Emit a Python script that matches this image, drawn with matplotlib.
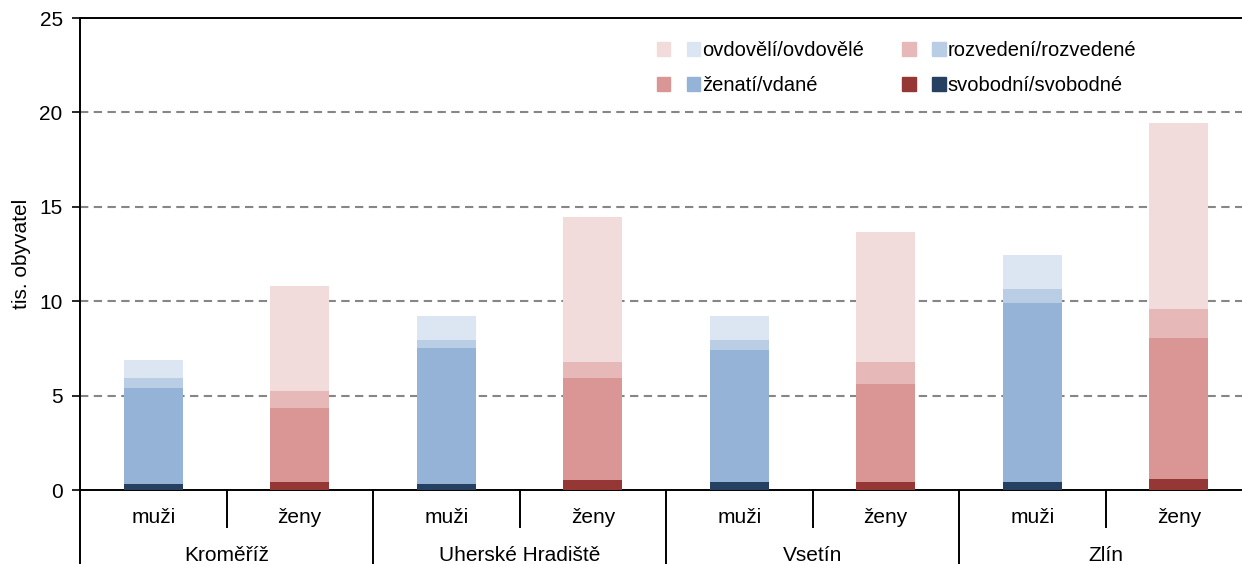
import matplotlib
matplotlib.use("Agg")
import matplotlib.pyplot as plt
import matplotlib.transforms as mtransforms
from matplotlib.patches import Patch
from matplotlib.legend_handler import HandlerTuple
import numpy as np

plt.rcParams['font.family'] = ['Liberation Sans', 'DejaVu Sans']

districts = ["Kroměříž", "Uherské Hradiště", "Vsetín", "Zlín"]
sexes = ["muži", "ženy"]

# values in thousands, per district: [Kroměříž, UH, Vsetín, Zlín]
muzi_svobodni   = [0.32, 0.32, 0.42, 0.42]
muzi_zenati     = [5.10, 7.22, 7.01, 9.50]
muzi_rozvedeni  = [0.53, 0.40, 0.53, 0.73]
muzi_ovdoveli   = [0.94, 1.28, 1.26, 1.78]

zeny_svobodne   = [0.42, 0.53, 0.42, 0.58]
zeny_vdane      = [3.92, 5.40, 5.19, 7.47]
zeny_rozvedene  = [0.90, 0.87, 1.17, 1.54]
zeny_ovdovele   = [5.56, 7.66, 6.89, 9.85]

series_labels = ["svobodní/svobodné", "ženatí/vdané", "rozvedení/rozvedené", "ovdovělí/ovdovělé"]
blue_colors = ["#254061", "#95B3D7", "#B9CDE5", "#DCE6F2"]
red_colors = ["#953735", "#D99694", "#E6B9B8", "#F2DCDB"]

W, H = 1242, 564
fig = plt.figure(figsize=(W / 100, H / 100), dpi=100)
ax_l, ax_b = 80 / W, (H - 490) / H
ax_w, ax_h = 1172 / W, 472 / H
ax = fig.add_axes([ax_l, ax_b, ax_w, ax_h])

n = len(districts)
x_m = np.arange(n) * 2
x_z = x_m + 1
bw = 0.40

muzi = [muzi_svobodni, muzi_zenati, muzi_rozvedeni, muzi_ovdoveli]
zeny = [zeny_svobodne, zeny_vdane, zeny_rozvedene, zeny_ovdovele]

bm = np.zeros(n)
bz = np.zeros(n)
handles = []
for i in range(4):
    ax.bar(x_m, muzi[i], bw, bottom=bm, color=blue_colors[i], zorder=3, linewidth=0)
    ax.bar(x_z, zeny[i], bw, bottom=bz, color=red_colors[i], zorder=3, linewidth=0)
    bm += np.array(muzi[i])
    bz += np.array(zeny[i])
    handles.append((Patch(color=red_colors[i]), Patch(color=blue_colors[i])))

ax.set_xlim(-0.5, 2 * n - 0.5)
ax.set_ylim(0, 25)
ax.set_yticks([0, 5, 10, 15, 20, 25])
ax.tick_params(axis='y', length=5.5, width=1.2, pad=7, labelsize=15, color='black')
ax.set_xticks([])

for y in [5, 10, 15, 20]:
    ax.axhline(y, color='#868686', lw=1.5, dashes=(4, 2.6), zorder=1)

ax.spines['right'].set_visible(False)
for s in ['left', 'bottom', 'top']:
    ax.spines[s].set_linewidth(1.4)

ax.set_ylabel("tis. obyvatel", fontsize=15)
ax.yaxis.set_label_coords(-0.042, 0.5)

trans = mtransforms.blended_transform_factory(ax.transData, ax.transAxes)
px = 1 / 472
# separators
for k in range(n):
    xs = 2 * k + 0.5
    ax.plot([xs, xs], [0, -37 * px], transform=trans, color='black', lw=1.4, clip_on=False)
for k in range(n):
    xs = 2 * k - 0.5
    ax.plot([xs, xs], [0, -90 * px], transform=trans, color='black', lw=1.4, clip_on=False)

for k in range(n):
    ax.text(x_m[k], -33 * px, sexes[0], transform=trans, ha='center', va='baseline', fontsize=15)
    ax.text(x_z[k], -33 * px, sexes[1], transform=trans, ha='center', va='baseline', fontsize=15)
    ax.text(2 * k + 0.5, -71 * px, districts[k], transform=trans, ha='center', va='baseline', fontsize=15)

order = [3, 1, 2, 0]
leg = fig.legend([handles[i] for i in order], [series_labels[i] for i in order],
                 handler_map={tuple: HandlerTuple(ndivide=None, pad=0.82)},
                 ncol=2, frameon=False, fontsize=14.5,
                 loc='upper left', bbox_to_anchor=(657 / W, 1 - 41 / H),
                 borderpad=0, borderaxespad=0, handlelength=2.15, handleheight=0.7,
                 handletextpad=0.1, columnspacing=1.9, labelspacing=0.8)

fig.savefig("out.png", dpi=100)
